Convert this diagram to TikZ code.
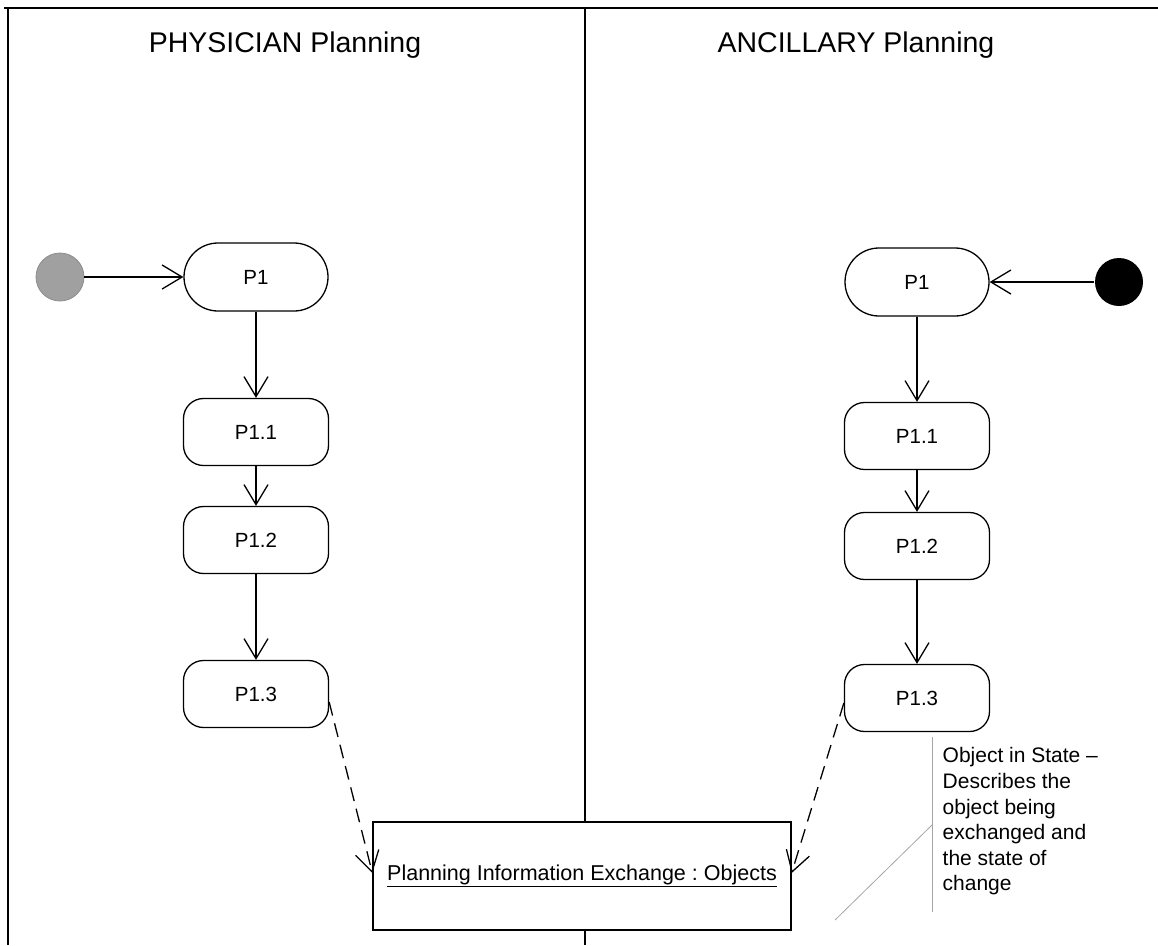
\documentclass[tikz,border=0pt]{standalone}
\usepackage{fontspec}
\setmainfont{Liberation Sans}
\frenchspacing
\usetikzlibrary{arrows.meta}

\begin{document}
\begin{tikzpicture}[x=1pt, y=-1pt, line width=1.3pt,
    >={Straight Barb[length=20pt, width=24pt]},
    act/.style={draw, rounded corners=20pt, minimum width=145pt, minimum height=67pt, font=\fontsize{20.5}{24}\selectfont},
    startact/.style={draw, rounded corners=34pt, minimum width=144pt, minimum height=68pt, font=\fontsize{20.5}{24}\selectfont},
    lane/.style={line width=1.8pt},
    flow/.style={->},
    objflow/.style={->, dash pattern=on 14pt off 8pt},
    noteline/.style={draw=gray!70, line width=0.8pt}]
    \useasboundingbox (0,0) rectangle (1158,945);

    % swimlanes
    \coordinate (TL) at (4,8);
    \coordinate (TR) at (1158,8);
    \coordinate (LT) at (8,8);
    \coordinate (LB) at (8,945);
    \coordinate (MT) at (585,8);
    \coordinate (MB) at (585,945);
    \draw[lane] (TL) -- (TR);
    \draw[lane] (LT) -- (LB);
    \draw[lane] (MT) -- (MB);

    \node[font=\fontsize{28.5}{32}\selectfont]  (PH)  at ( 285,  45)   {PHYSICIAN Planning};
    \node[font=\fontsize{28.5}{32}\selectfont]  (AN)  at ( 856,  45)   {ANCILLARY Planning};

    % physician side
    \node[circle, minimum size=48pt, inner sep=0pt, fill={rgb,255:red,160;green,160;blue,160}, draw={rgb,255:red,140;green,140;blue,140}, line width=0.8pt]  (SL)  at (  60, 277) {};
    \node[startact]  (LP1)   at ( 256, 277)   {P1};
    \node[act]       (LP11)  at ( 256, 432)   {P1.1};
    \node[act]       (LP12)  at ( 256, 540)   {P1.2};
    \node[act]       (LP13)  at ( 256, 694)   {P1.3};

    % ancillary side
    \node[circle, minimum size=48pt, inner sep=0pt, fill=black]  (SR)  at (1119, 282) {};
    \node[startact]  (RP1)   at ( 917, 282)   {P1};
    \node[act]       (RP11)  at ( 917, 436)   {P1.1};
    \node[act]       (RP12)  at ( 917, 546)   {P1.2};
    \node[act]       (RP13)  at ( 917, 698)   {P1.3};

    % exchanged object
    \node[draw, fill=white, minimum width=418pt, minimum height=108pt, font=\fontsize{21.5}{25}\selectfont]  (OBJ)  at ( 582, 876)   {\underline{Planning Information Exchange : Objects}};

    \draw[flow] (SL) -- (LP1);
    \draw[flow] (LP1) -- (LP11);
    \draw[flow] (LP11) -- (LP12);
    \draw[flow] (LP12) -- (LP13);

    \draw[flow] (SR) -- (RP1);
    \draw[flow] (RP1) -- (RP11);
    \draw[flow] (RP11) -- (RP12);
    \draw[flow] (RP12) -- (RP13);

    \draw[objflow] ([yshift=-8pt]LP13.east) -- ([yshift=3pt]OBJ.west);
    \draw[objflow] ([yshift=-5pt]RP13.west) -- ([yshift=3pt]OBJ.east);

    % note
    \node[anchor=north west, align=left, inner sep=0pt, font=\fontsize{21}{25.6}\selectfont]  (NOTE)  at ( 942, 747)   {Object in State --\\Describes the\\object being\\exchanged and\\the state of\\change};
    \coordinate (NT) at (932, 737);
    \coordinate (NB) at (932, 912);
    \coordinate (NM) at (932, 825);
    \coordinate (ND) at (835, 920);
    \draw[noteline] (NT) -- (NB);
    \draw[noteline] (NM) -- (ND);
\end{tikzpicture}
\end{document}
